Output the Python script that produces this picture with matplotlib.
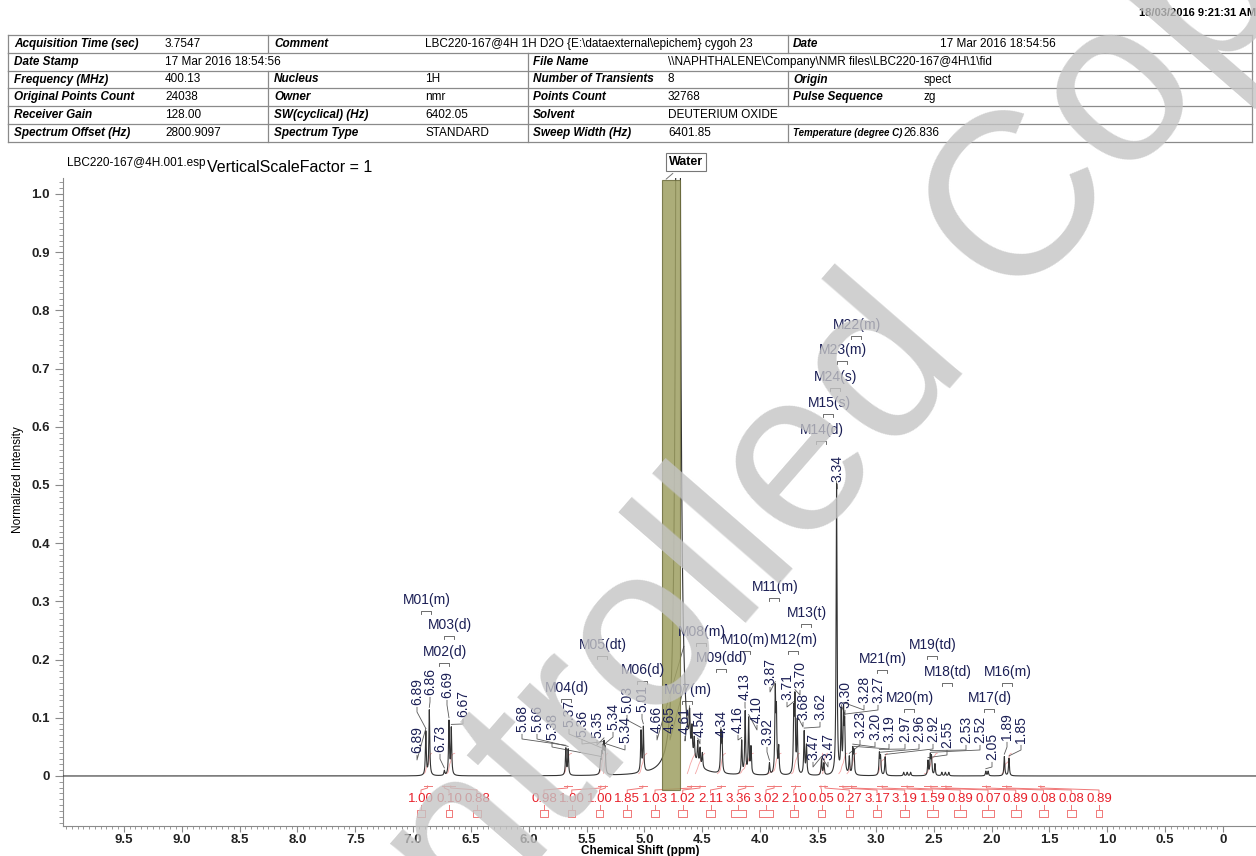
import numpy as np
import matplotlib.pyplot as plt
from matplotlib.patches import Rectangle

plt.rcParams['font.family'] = ['Liberation Sans', 'DejaVu Sans']

W, H = 1256, 856

# ---- spectrum: peak centres (ppm) and heights (normalised intensity)
peak_ppm = [6.89, 6.86, 6.73, 6.69, 6.67,
            5.68, 5.66, 5.38, 5.37, 5.36, 5.35, 5.34,
            5.03, 5.01,
            4.61, 4.59, 4.57, 4.54, 4.52, 4.50,
            4.34, 4.33,
            4.16, 4.13, 4.10, 4.08,
            3.92, 3.87, 3.86, 3.84,
            3.71, 3.70, 3.68, 3.62, 3.60,
            3.47, 3.45,
            3.34,
            3.30, 3.28, 3.27,
            3.23, 3.20, 3.19,
            2.97, 2.96, 2.92,
            2.76, 2.73, 2.70,
            2.55, 2.53, 2.52, 2.49,
            2.43, 2.40, 2.37,
            2.05, 2.03,
            1.89, 1.85]
peak_height = [0.075, 0.112, 0.008, 0.092, 0.080,
               0.046, 0.044, 0.020, 0.030, 0.038, 0.045, 0.040,
               0.070, 0.076,
               0.057, 0.045, 0.035, 0.038, 0.030, 0.025,
               0.066, 0.055,
               0.057, 0.107, 0.095, 0.045,
               0.020, 0.139, 0.100, 0.045,
               0.100, 0.122, 0.090, 0.074, 0.050,
               0.027, 0.020,
               0.500,
               0.105, 0.100, 0.080,
               0.030, 0.042, 0.038,
               0.036, 0.030, 0.032,
               0.006, 0.006, 0.006,
               0.025, 0.033, 0.030, 0.020,
               0.006, 0.006, 0.006,
               0.008, 0.008,
               0.033, 0.030]
water_ppm = 4.71
water_height = 4.0

# ---- peak pick labels
peak_labels = ["6.89", "6.86", "6.89", "6.73", "6.69", "6.67",
               "5.68", "5.66", "5.38", "5.37", "5.36", "5.35", "5.34", "5.34", "5.03", "5.01",
               "4.66", "4.65", "4.61", "4.54", "4.34", "4.16", "4.13", "4.10",
               "3.92", "3.87", "3.71", "3.70", "3.68", "3.62", "3.47", "3.47", "3.34",
               "3.30", "3.28", "3.27", "3.23", "3.20", "3.19", "2.97", "2.96", "2.92",
               "2.55", "2.53", "2.52", "2.05", "1.89", "1.85"]

# ---- multiplet labels
mult_labels = ["M01(m)", "M03(d)", "M02(d)", "M04(d)", "M05(dt)", "M06(d)", "M07(m)",
               "M08(m)", "M09(dd)", "M10(m)", "M11(m)", "M12(m)", "M13(t)", "M14(d)",
               "M15(s)", "M16(m)", "M17(d)", "M18(td)", "M19(td)", "M20(m)", "M21(m)",
               "M22(m)", "M23(m)", "M24(s)"]

# ---- integrals
integral_values = ["1.00", "0.10", "0.88",
                   "0.98", "1.00", "1.00", "1.85", "1.03", "1.02", "2.11", "3.36", "3.02",
                   "2.10", "0.05", "0.27", "3.17", "3.19", "1.59", "0.89", "0.07", "0.89",
                   "0.08", "0.08", "0.89"]
integral_from = [6.91, 6.75, 6.71, 5.70, 5.40, 5.355, 5.05, 4.63, 4.56, 4.37, 4.19, 3.94,
                 3.73, 3.49, 3.46, 3.32, 3.25, 2.99, 2.78, 2.58, 2.44, 2.08, 1.91, 1.60]
integral_to = [6.84, 6.71, 6.64, 5.63, 5.355, 5.32, 4.98, 4.56, 4.48, 4.30, 4.06, 3.82,
               3.66, 3.46, 3.42, 3.25, 3.17, 2.90, 2.68, 2.47, 2.35, 2.01, 1.83, 1.55]

x_ticks = [9.5, 9.0, 8.5, 8.0, 7.5, 7.0, 6.5, 6.0, 5.5, 5.0, 4.5, 4.0, 3.5, 3.0, 2.5, 2.0, 1.5, 1.0, 0.5, 0]
y_ticks = [0, 0.1, 0.2, 0.3, 0.4, 0.5, 0.6, 0.7, 0.8, 0.9, 1.0]

# ---- parameter table (text, x in px, is_label, font size)
table_rows = [
    [("Acquisition Time (sec)", 14, True, 8.5), ("3.7547", 165, False, 8.5), ("Comment", 274, True, 8.5),
     ("LBC220-167@4H 1H D2O {E:\\dataexternal\\epichem} cygoh 23", 425, False, 8.5),
     ("Date", 793, True, 8.5), ("17 Mar 2016 18:54:56", 940, False, 8.5)],
    [("Date Stamp", 14, True, 8.5), ("17 Mar 2016 18:54:56", 165, False, 8.5), ("File Name", 533, True, 8.5),
     ("\\\\NAPHTHALENE\\Company\\NMR files\\LBC220-167@4H\\1\\fid", 668, False, 8.5)],
    [("Frequency (MHz)", 14, True, 8.5), ("400.13", 165, False, 8.5), ("Nucleus", 274, True, 8.5),
     ("1H", 425, False, 8.5), ("Number of Transients", 533, True, 8.5), ("8", 668, False, 8.5),
     ("Origin", 793, True, 8.5), ("spect", 924, False, 8.5)],
    [("Original Points Count", 14, True, 8.5), ("24038", 165, False, 8.5), ("Owner", 274, True, 8.5),
     ("nmr", 425, False, 8.5), ("Points Count", 533, True, 8.5), ("32768", 668, False, 8.5),
     ("Pulse Sequence", 793, True, 8.5), ("zg", 924, False, 8.5)],
    [("Receiver Gain", 14, True, 8.5), ("128.00", 165, False, 8.5), ("SW(cyclical) (Hz)", 274, True, 8.5),
     ("6402.05", 425, False, 8.5), ("Solvent", 533, True, 8.5), ("DEUTERIUM OXIDE", 668, False, 8.5)],
    [("Spectrum Offset (Hz)", 14, True, 8.5), ("2800.9097", 165, False, 8.5), ("Spectrum Type", 274, True, 8.5),
     ("STANDARD", 425, False, 8.5), ("Sweep Width (Hz)", 533, True, 8.5), ("6401.85", 668, False, 8.5),
     ("Temperature (degree C)", 793, True, 7.0), ("26.836", 903, False, 8.5)],
]
row_dividers = [[268, 788], [528], [268, 528, 788], [268, 528, 788], [268, 528], [268, 528, 788]]


def fx(px):
    return px / W


def fy(py):
    return 1 - py / H


# pixel -> data helpers for the annotation layout
def px2ppm(px):
    return (1223 - px) / 115.7


def py2int(py):
    return (776 - py) / 582


fig = plt.figure(figsize=(W / 100, H / 100), dpi=100)
fig.patch.set_facecolor('white')

# table
fig.text(fx(1256), fy(13), "18/03/2016 9:21:31 AM", ha='right', va='center', fontsize=8, fontweight='bold')
top, rh = 35, 17.8
for i in range(7):
    fig.add_artist(plt.Line2D([fx(8), fx(1252)], [fy(top + i * rh)] * 2, color='#8a8a8a', lw=0.9))
for i, row in enumerate(table_rows):
    yc = top + (i + 0.5) * rh
    for xd in [8, 1252] + row_dividers[i]:
        fig.add_artist(plt.Line2D([fx(xd)] * 2, [fy(top + i * rh), fy(top + (i + 1) * rh)],
                                  color='#8a8a8a', lw=0.9))
    for text, xp, is_label, fs in row:
        fig.text(fx(xp), fy(yc), text, ha='left', va='center', fontsize=fs,
                 fontweight='bold' if is_label else 'normal',
                 fontstyle='italic' if is_label else 'normal')

# spectrum axes
ax = fig.add_axes([fx(63), fy(826), fx(1256) - fx(63), fy(178) - fy(826)])
ax.set_xlim(px2ppm(63), px2ppm(1256))
ax.set_ylim(py2int(826), py2int(178))

x = np.linspace(10.2, -0.4, 45000)
y = np.zeros_like(x)
hw = 0.0045
for c, h in zip(peak_ppm, peak_height):
    y += h * hw ** 2 / ((x - c) ** 2 + hw ** 2)
ww = 0.012
y += water_height * ww ** 2 / ((x - water_ppm) ** 2 + ww ** 2)
ax.plot(x, y, color='#333333', lw=0.8, zorder=3)


def inten(p):
    return np.interp(p, x[::-1], y[::-1])


# integral curves, leaders and labels
int_lab_x = [421, 449, 477] + [544 + 27.75 * k for k in range(21)]
for val, a, b, lx in zip(integral_values, integral_from, integral_to, int_lab_x):
    m = (x <= a) & (x >= b)
    cum = np.cumsum(y[m])
    if y[m].max() > 0.015:
        ax.plot(x[m], 0.004 + 0.035 * cum / cum[-1], color='#f4a5a5', lw=0.6, zorder=2)
    xc = px2ppm(lx)
    ax.plot([a, b], [py2int(786)] * 2, color='#f07878', lw=0.7)
    ax.plot([xc, xc, (a + b) / 2, (a + b) / 2], [py2int(793), py2int(790), py2int(788), py2int(786)],
            color='#f07878', lw=0.7)
    ax.text(xc, py2int(799), val, ha='center', va='center', fontsize=9.5, color='#e8202a', zorder=6)
    bw = min(max(abs(a - b) / 2, 0.03), 0.07)
    ax.plot([xc, xc], [py2int(805), py2int(810)], color='#f07878', lw=0.7)
    ax.plot([xc - bw, xc - bw, xc + bw, xc + bw, xc - bw],
            [py2int(810), py2int(817), py2int(817), py2int(810), py2int(810)],
            color='#f07878', lw=0.7)

# peak labels (layout in pixels: x centre, bottom of text)
pl_x = [417, 430, 417, 440, 447, 463,
        522, 537, 552, 569, 582, 597, 613, 625, 627, 642,
        657, 670, 685, 700, 722, 738, 745, 757,
        767, 770, 787, 800, 803, 820, 813, 828, 837,
        845, 864, 878, 860, 875, 889, 905, 919, 933,
        947, 966, 980, 992, 1007, 1021]
pl_y = [705, 695, 753, 752, 698, 717,
        732, 732, 740, 727, 737, 738, 730, 743, 713, 712,
        733, 733, 734, 737, 737, 733, 700, 723,
        745, 685, 700, 688, 720, 720, 760, 760, 482,
        708, 703, 703, 738, 740, 742, 742, 742, 742,
        748, 743, 743, 760, 740, 743]
for lab, lx, ly in zip(peak_labels, pl_x, pl_y):
    p = float(lab)
    tx, ty = px2ppm(lx), py2int(ly)
    ax.text(tx, ty, lab, rotation=90, ha='center', va='bottom', fontsize=10, color='#1b1f55', zorder=6)
    ax.plot([tx, tx, p], [ty - 0.004, ty - 0.012, min(inten(p), 0.95) + 0.004],
            color='#5a5a5a', lw=0.6, zorder=2)

# multiplet labels
ml_x = [427, 450, 445, 567, 603, 643, 688, 702, 722, 746, 775, 794, 807, 822,
        829, 1008, 990, 948, 933, 910, 883, 857, 843, 836]
ml_y = [600, 625, 652, 688, 645, 670, 690, 632, 658, 640, 587, 640, 613, 430,
        403, 672, 698, 672, 645, 698, 659, 325, 350, 377]
for lab, mx, my in zip(mult_labels, ml_x, ml_y):
    ax.text(px2ppm(mx), py2int(my), lab, ha='center', va='center', fontsize=10, color='#1b1f55', zorder=6)
    bx0, bx1 = px2ppm(mx - 6), px2ppm(mx + 4)
    ax.plot([bx0, bx0, bx1, bx1], [py2int(my + 14), py2int(my + 11), py2int(my + 11), py2int(my + 14)],
            color='#555555', lw=0.6)

# water region
ax.add_patch(Rectangle((px2ppm(680), py2int(790)), px2ppm(662) - px2ppm(680), py2int(180) - py2int(790),
                       facecolor='#9e9f62', edgecolor='#6d6d3c', alpha=0.85, lw=0.8, zorder=4, clip_on=False))
ax.annotate("Water", xy=(px2ppm(664), py2int(181)), xytext=(px2ppm(686), py2int(162)),
            ha='center', va='center', fontsize=9, fontweight='bold', annotation_clip=False,
            bbox=dict(boxstyle='square,pad=0.25', fc='white', ec='#777777', lw=0.8),
            arrowprops=dict(arrowstyle='-', color='#777777', lw=0.7))

fig.text(fx(67), fy(163), "LBC220-167@4H.001.esp", ha='left', va='center', fontsize=8.5)
fig.text(fx(207), fy(167), "VerticalScaleFactor = 1", ha='left', va='center', fontsize=11.5)

# axes styling
for s in ['top', 'right']:
    ax.spines[s].set_visible(False)
ax.spines['left'].set_color('#8a8a8a')
ax.spines['bottom'].set_color('#8a8a8a')
ax.set_xticks(x_ticks)
ax.set_xticklabels(["0" if t == 0 else "%.1f" % t for t in x_ticks])
ax.set_xticks(np.arange(0, 10.01, 0.05), minor=True)
ax.set_yticks(y_ticks)
ax.set_yticklabels(["0" if t == 0 else "%.1f" % t for t in y_ticks])
ax.set_yticks(np.arange(-0.08, 1.021, 0.01), minor=True)
ax.tick_params(axis='y', which='major', labelsize=9.5, colors='#8a8a8a', labelcolor='#222222', length=6)
ax.tick_params(axis='y', which='minor', colors='#8a8a8a', length=3)
ax.tick_params(axis='x', which='major', labelsize=9.5, colors='#8a8a8a', labelcolor='#222222', length=4, pad=1.5)
ax.tick_params(axis='x', which='minor', colors='#8a8a8a', length=2)
for t in ax.get_xticklabels() + ax.get_yticklabels():
    t.set_fontweight('bold')
fig.text(fx(640), fy(851), "Chemical Shift (ppm)", ha='center', va='center', fontsize=8.5, fontweight='bold')
fig.text(fx(18), fy(480), "Normalized Intensity", rotation=90, ha='center', va='center', fontsize=8.5)
ax.patch.set_alpha(0)

# watermark
fig.text(fx(779), fy(492), "Controlled Copy", rotation=49, ha='center', va='center',
         fontsize=167, color='#c4c4c4', alpha=0.8, zorder=10)

fig.savefig("out.png", dpi=100)
